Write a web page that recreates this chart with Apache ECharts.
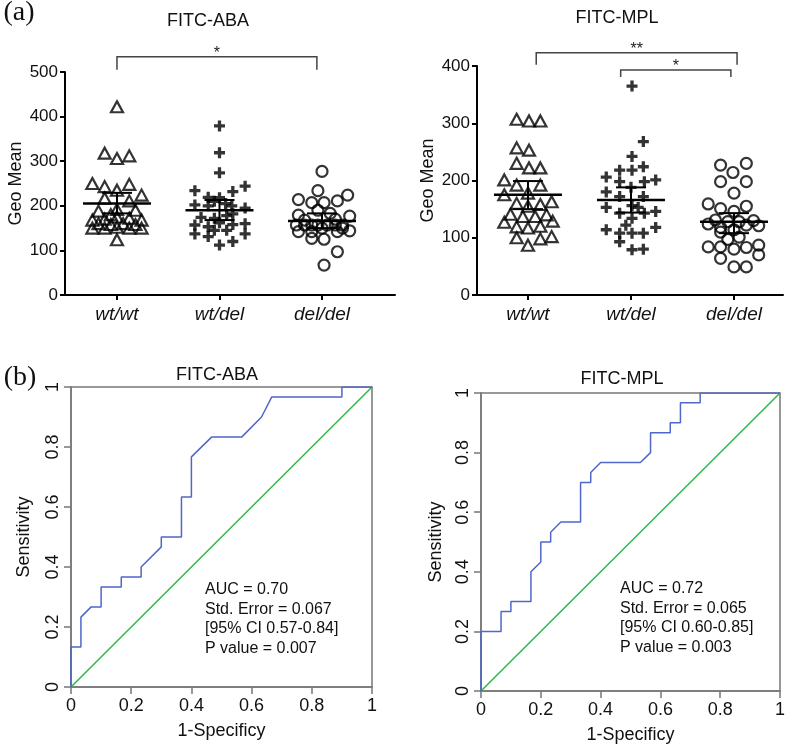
<!DOCTYPE html>
<html><head><meta charset="utf-8">
<script src="https://cdn.jsdelivr.net/npm/echarts@6/dist/echarts.min.js"></script>
<style>html,body{margin:0;padding:0;background:#fff}#c{width:787px;height:745px}</style>
</head><body><div id="c"></div>
<script>
// ---------- data ----------
const groups = ['wt/wt', 'wt/del', 'del/del'];
const yTicksABA = [0, 100, 200, 300, 400, 500];
const yTicksMPL = [0, 100, 200, 300, 400];

// FITC-ABA  (jitter = horizontal offset in category widths)
const abaWtWtValue  = [422, 318, 306, 312, 250, 243, 235, 248, 224, 217, 211, 188, 192, 190, 180, 168, 170, 175, 172, 168, 160, 158, 160, 158, 150, 150, 152, 150, 150, 124];
const abaWtWtJitter = [0, -0.12, 0, 0.12, -0.24, -0.12, 0, 0.12, 0.24, -0.12, 0.12, -0.18, 0, 0.18, -0.06, -0.24, -0.12, 0, 0.12, 0.24, -0.18, -0.06, 0.06, 0.18, -0.24, -0.12, 0, 0.12, 0.24, 0];
const abaWtDelValue  = [379, 319, 274, 234, 232, 244, 219, 218, 210, 202, 200, 205, 200, 195, 174, 172, 178, 182, 157, 153, 162, 158, 160, 137, 131, 145, 145, 137, 112, 120];
const abaWtDelJitter = [0, 0, 0, -0.24, 0.13, 0.25, -0.11, 0, -0.05, -0.24, -0.11, 0.06, 0.12, 0.25, -0.18, -0.05, 0.07, 0.13, -0.24, -0.11, 0, 0.13, 0.25, -0.24, -0.11, -0.05, 0.07, 0.25, 0, 0.13];
const abaDelDelValue  = [277, 234, 224, 214, 207, 207, 211, 179, 190, 183, 177, 168, 170, 157, 157, 157, 157, 157, 157, 157, 150, 150, 142, 142, 142, 144, 127, 125, 97, 67];
const abaDelDelJitter = [0, -0.04, 0.25, -0.23, -0.1, 0.02, 0.15, -0.23, -0.04, 0.08, 0.27, -0.17, 0.13, -0.25, -0.17, -0.1, -0.04, 0.05, 0.13, 0.2, 0, 0.2, -0.23, -0.1, 0.15, 0.27, -0.1, 0.02, 0.15, 0.02];
const abaMean    = [205, 190, 166];
const abaErrLow  = [183, 168, 150];
const abaErrHigh = [229, 213, 183];

// FITC-MPL
const mplWtWtValue  = [307, 304, 304, 257, 253, 230, 222, 222, 201, 192, 192, 175, 178, 160, 158, 163, 155, 141, 137, 137, 140, 127, 119, 117, 120, 129, 100, 98, 102, 87];
const mplWtWtJitter = [-0.11, 0.01, 0.12, -0.11, 0.01, -0.11, 0.01, 0.12, -0.23, -0.11, 0.12, -0.23, 0, -0.11, 0.12, 0.23, 0, -0.17, -0.05, 0.07, 0.18, -0.23, -0.11, 0, 0.12, 0.24, -0.11, 0.12, 0.23, 0];
const mplWtDelValue  = [365, 268, 242, 224, 218, 218, 206, 198, 198, 201, 188, 180, 172, 172, 153, 156, 153, 143, 143, 146, 134, 122, 114, 118, 108, 108, 108, 93, 79, 80];
const mplWtDelJitter = [0.01, 0.12, 0.01, 0.12, -0.11, 0.01, -0.24, -0.11, 0.13, 0.24, 0, -0.24, -0.11, 0.12, -0.24, 0.01, 0.07, -0.11, 0.13, 0.24, 0.01, -0.05, -0.24, 0.24, -0.11, 0.01, 0.12, -0.11, 0.01, 0.12];
const mplDelDelValue  = [227, 230, 214, 198, 198, 178, 159, 151, 155, 146, 124, 131, 118, 128, 128, 122, 130, 121, 114, 110, 97, 101, 84, 84, 80, 83, 87, 70, 64, 49, 49];
const mplDelDelJitter = [-0.13, 0.12, -0.01, -0.13, 0.12, 0, -0.25, -0.13, 0.12, 0, -0.25, -0.18, -0.13, -0.06, 0.05, 0.12, 0.19, 0.24, 0, -0.13, -0.06, 0.05, -0.25, -0.13, 0, 0.12, 0.24, 0.24, -0.13, 0, 0.12];
const mplMean    = [175, 166, 128];
const mplErrLow  = [150, 144, 108];
const mplErrHigh = [199, 188, 143];

// significance brackets: [from group, to group, top value, left drop end, right drop end]
const abaBrackets = [[0, 1.95, 534, 505, 505]];
const abaBracketLabels = ['*'];
const mplBrackets = [[0.08, 2.03, 423, 402, 402], [0.9, 1.97, 393, 381, 381]];
const mplBracketLabels = ['**', '*'];

// ROC curves
const rocAbaFpr = [0, 0, 0.033, 0.033, 0.067, 0.1, 0.1, 0.167, 0.167, 0.233, 0.233, 0.3, 0.3, 0.367, 0.367, 0.4, 0.4, 0.467, 0.567, 0.633, 0.667, 0.9, 0.9, 1];
const rocAbaTpr = [0, 0.133, 0.133, 0.233, 0.267, 0.267, 0.333, 0.333, 0.367, 0.367, 0.4, 0.467, 0.5, 0.5, 0.633, 0.633, 0.767, 0.833, 0.833, 0.9, 0.967, 0.967, 1, 1];
const rocMplFpr = [0, 0, 0.067, 0.067, 0.1, 0.1, 0.167, 0.167, 0.2, 0.2, 0.233, 0.233, 0.267, 0.333, 0.333, 0.367, 0.367, 0.4, 0.533, 0.567, 0.567, 0.633, 0.633, 0.667, 0.667, 0.733, 0.733, 1];
const rocMplTpr = [0, 0.2, 0.2, 0.267, 0.267, 0.3, 0.3, 0.4, 0.433, 0.5, 0.5, 0.533, 0.567, 0.567, 0.7, 0.7, 0.733, 0.767, 0.767, 0.8, 0.867, 0.867, 0.9, 0.9, 0.967, 0.967, 1, 1];
const refLineX = [0, 1];
const refLineY = [0, 1];
const abaStats = ['AUC = 0.70', 'Std. Error = 0.067', '[95% CI 0.57-0.84]', 'P value = 0.007'];
const mplStats = ['AUC = 0.72', 'Std. Error = 0.065', '[95% CI 0.60-0.85]', 'P value = 0.003'];

// ---------- helpers ----------
const FONT = 'Liberation Sans';
function pts(g, vals, jit) { return vals.map((v, i) => [g + jit[i], v]); }
function pairs(xs, ys) { return xs.map((x, i) => [x, ys[i]]); }
function errData(m, lo, hi) { return m.map((v, i) => [i, v, lo[i], hi[i]]); }

function errRender(params, api) {
  const x = api.value(0);
  const pm = api.coord([x, api.value(1)]);
  const pl = api.coord([x, api.value(2)]);
  const ph = api.coord([x, api.value(3)]);
  const st = { stroke: '#000', lineWidth: 2 };
  return { type: 'group', children: [
    { type: 'line', shape: { x1: pm[0] - 34, y1: pm[1], x2: pm[0] + 34, y2: pm[1] }, style: { stroke: '#000', lineWidth: 2.5 } },
    { type: 'line', shape: { x1: ph[0], y1: ph[1], x2: pl[0], y2: pl[1] }, style: st },
    { type: 'line', shape: { x1: ph[0] - 15, y1: ph[1], x2: ph[0] + 15, y2: ph[1] }, style: st },
    { type: 'line', shape: { x1: pl[0] - 15, y1: pl[1], x2: pl[0] + 15, y2: pl[1] }, style: st }
  ]};
}
function bracketRender(labels) {
  return function (params, api) {
    const x1 = api.value(0), x2 = api.value(1), yt = api.value(2);
    const a = api.coord([x1, api.value(3)]), b = api.coord([x1, yt]);
    const c = api.coord([x2, yt]), d = api.coord([x2, api.value(4)]);
    return { type: 'group', children: [
      { type: 'polyline', shape: { points: [a, b, c, d] }, style: { stroke: '#444', lineWidth: 1.5, fill: null } },
      { type: 'text', x: (b[0] + c[0]) / 2, y: b[1] - 3, style: { text: labels[params.dataIndex], font: '16px ' + FONT, fill: '#222', align: 'center', verticalAlign: 'middle', textAlign: 'center', textVerticalAlign: 'middle' } }
    ]};
  };
}

const triSym = 'triangle';
const plusSym = 'path://M3.5,0H6.5V3.5H10V6.5H6.5V10H3.5V6.5H0V3.5H3.5Z';
const hollow = { color: 'rgba(0,0,0,0)', borderColor: '#000', borderWidth: 2.2 };

function scatterAxisX(gi, min, max) {
  return {
    gridIndex: gi, type: 'value', min: min, max: max,
    axisLine: { show: true, onZero: false, lineStyle: { color: '#000', width: 2 } },
    axisTick: { show: true, customValues: [0, 1, 2], length: 5, lineStyle: { color: '#000', width: 2 } },
    axisLabel: { show: true, customValues: [0, 1, 2], formatter: v => groups[Math.round(v)], margin: 10,
      fontFamily: FONT, fontSize: 19, fontStyle: 'italic', color: '#111' },
    splitLine: { show: false }
  };
}
function scatterAxisY(gi, ticks) {
  return {
    gridIndex: gi, type: 'value', min: ticks[0], max: ticks[ticks.length - 1], interval: ticks[1] - ticks[0],
    name: 'Geo Mean', nameLocation: 'middle', nameGap: 40,
    nameTextStyle: { fontFamily: FONT, fontSize: 18, color: '#111' },
    axisLine: { show: true, onZero: false, lineStyle: { color: '#000', width: 2 } },
    axisTick: { show: true, length: 5, lineStyle: { color: '#000', width: 2 } },
    axisLabel: { margin: 7, fontFamily: FONT, fontSize: 17, color: '#111' },
    splitLine: { show: false }
  };
}
function rocAxisX(gi) {
  return {
    gridIndex: gi, type: 'value', min: 0, max: 1, interval: 0.2,
    name: '1-Specificy', nameLocation: 'middle', nameGap: 35,
    nameTextStyle: { fontFamily: FONT, fontSize: 18, color: '#111' },
    axisLine: { show: true, onZero: false, lineStyle: { color: '#777', width: 1.5 } },
    axisTick: { show: true, length: 7, lineStyle: { color: '#777', width: 1.5 } },
    axisLabel: { margin: 10, fontFamily: FONT, fontSize: 18, color: '#111' },
    splitLine: { show: false }
  };
}
function rocAxisY(gi, gap) {
  return {
    gridIndex: gi, type: 'value', min: 0, max: 1, interval: 0.2,
    name: 'Sensitivity', nameLocation: 'middle', nameGap: gap,
    nameTextStyle: { fontFamily: FONT, fontSize: 18, color: '#111' },
    axisLine: { show: true, onZero: false, lineStyle: { color: '#777', width: 1.5 } },
    axisTick: { show: true, length: 7, lineStyle: { color: '#777', width: 1.5 } },
    axisLabel: { margin: 9, rotate: 90, fontFamily: FONT, fontSize: 18, color: '#111' },
    splitLine: { show: false }
  };
}
function txt(x, y, text, font, align) {
  return { type: 'text', x: x, y: y, style: { text: text, font: font, fill: '#111',
    align: align || 'center', verticalAlign: 'middle', textAlign: align || 'center', textVerticalAlign: 'middle' } };
}
function statsText(x, y, lines) {
  return { type: 'text', x: x, y: y, style: { text: lines.join('\n'), font: '16px ' + FONT, fill: '#111',
    lineHeight: 19.5, align: 'left', verticalAlign: 'top', textAlign: 'left', textVerticalAlign: 'top' } };
}

const chart = echarts.init(document.getElementById('c'), null, { renderer: 'canvas' });
chart.setOption({
  animation: false,
  backgroundColor: '#fff',
  grid: [
    { left: 65, top: 72, width: 330, height: 223, outerBoundsMode: 'none' },
    { left: 477, top: 66, width: 306, height: 229, outerBoundsMode: 'none' },
    { left: 71, top: 387, width: 301, height: 300, show: true, borderColor: '#777', borderWidth: 1.5, outerBoundsMode: 'none' },
    { left: 481, top: 393, width: 299, height: 298, show: true, borderColor: '#777', borderWidth: 1.5, outerBoundsMode: 'none' }
  ],
  xAxis: [scatterAxisX(0, -0.507, 2.712), scatterAxisX(1, -0.495, 2.476), rocAxisX(2), rocAxisX(3)],
  yAxis: [scatterAxisY(0, yTicksABA), scatterAxisY(1, yTicksMPL), rocAxisY(2, 38), rocAxisY(3, 36)],
  graphic: [
    txt(19, 13, '(a)', '28px Liberation Serif'),
    txt(20, 378, '(b)', '28px Liberation Serif'),
    txt(208, 21, 'FITC-ABA', '18px ' + FONT),
    txt(617, 18, 'FITC-MPL', '18px ' + FONT),
    txt(217, 375, 'FITC-ABA', '18px ' + FONT),
    txt(622, 379, 'FITC-MPL', '18px ' + FONT),
    statsText(205, 580, abaStats),
    statsText(620, 579, mplStats)
  ],
  series: [
    { type: 'scatter', xAxisIndex: 0, yAxisIndex: 0, symbol: triSym, symbolSize: [12, 11], itemStyle: hollow, data: pts(0, abaWtWtValue, abaWtWtJitter) },
    { type: 'scatter', xAxisIndex: 0, yAxisIndex: 0, symbol: plusSym, symbolSize: 11, itemStyle: { color: '#000' }, data: pts(1, abaWtDelValue, abaWtDelJitter) },
    { type: 'scatter', xAxisIndex: 0, yAxisIndex: 0, symbol: 'circle', symbolSize: 11, itemStyle: hollow, data: pts(2, abaDelDelValue, abaDelDelJitter) },
    { type: 'custom', xAxisIndex: 0, yAxisIndex: 0, renderItem: errRender, encode: { x: 0, y: [1, 2, 3] }, data: errData(abaMean, abaErrLow, abaErrHigh), z: 5 },
    { type: 'custom', xAxisIndex: 0, yAxisIndex: 0, clip: false, renderItem: bracketRender(abaBracketLabels), encode: { x: [0, 1], y: [2, 3, 4] }, data: abaBrackets, z: 5 },

    { type: 'scatter', xAxisIndex: 1, yAxisIndex: 1, symbol: triSym, symbolSize: [12, 11], itemStyle: hollow, data: pts(0, mplWtWtValue, mplWtWtJitter) },
    { type: 'scatter', xAxisIndex: 1, yAxisIndex: 1, symbol: plusSym, symbolSize: 11, itemStyle: { color: '#000' }, data: pts(1, mplWtDelValue, mplWtDelJitter) },
    { type: 'scatter', xAxisIndex: 1, yAxisIndex: 1, symbol: 'circle', symbolSize: 11, itemStyle: hollow, data: pts(2, mplDelDelValue, mplDelDelJitter) },
    { type: 'custom', xAxisIndex: 1, yAxisIndex: 1, renderItem: errRender, encode: { x: 0, y: [1, 2, 3] }, data: errData(mplMean, mplErrLow, mplErrHigh), z: 5 },
    { type: 'custom', xAxisIndex: 1, yAxisIndex: 1, clip: false, renderItem: bracketRender(mplBracketLabels), encode: { x: [0, 1], y: [2, 3, 4] }, data: mplBrackets, z: 5 },

    { type: 'line', xAxisIndex: 2, yAxisIndex: 2, showSymbol: false, symbol: 'none', lineStyle: { color: '#2db84a', width: 1.5 }, data: pairs(refLineX, refLineY) },
    { type: 'line', xAxisIndex: 2, yAxisIndex: 2, showSymbol: false, symbol: 'none', lineStyle: { color: '#4f67c9', width: 1.5 }, data: pairs(rocAbaFpr, rocAbaTpr) },
    { type: 'line', xAxisIndex: 3, yAxisIndex: 3, showSymbol: false, symbol: 'none', lineStyle: { color: '#2db84a', width: 1.5 }, data: pairs(refLineX, refLineY) },
    { type: 'line', xAxisIndex: 3, yAxisIndex: 3, showSymbol: false, symbol: 'none', lineStyle: { color: '#4f67c9', width: 1.5 }, data: pairs(rocMplFpr, rocMplTpr) }
  ]
});
</script></body></html>
